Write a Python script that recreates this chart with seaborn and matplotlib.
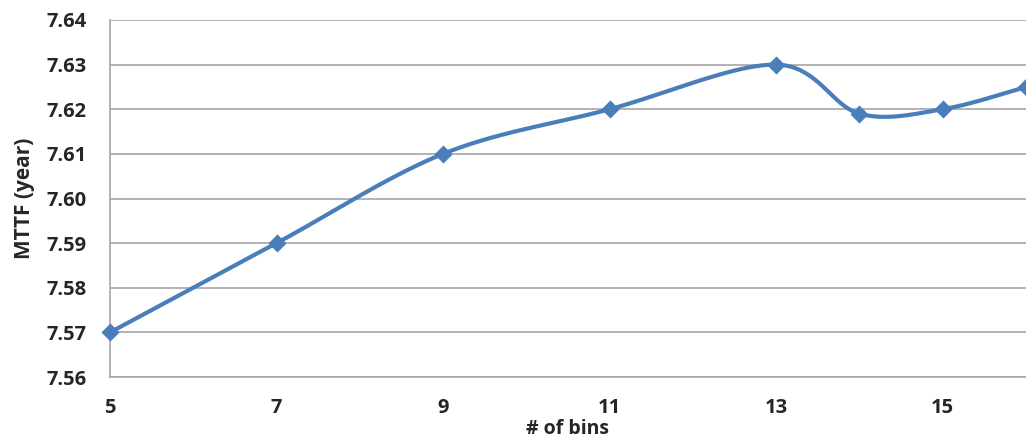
import numpy as np
import pandas as pd
import matplotlib
matplotlib.use("Agg")
import matplotlib.pyplot as plt
import seaborn as sns

# Mean time to failure versus number of bins
bins = [5, 7, 9, 11, 13, 14, 15, 16]
mttf = [7.570, 7.590, 7.610, 7.620, 7.630, 7.619, 7.620, 7.625]
x_ticks = [5, 7, 9, 11, 13, 15]
y_ticks = [7.56, 7.57, 7.58, 7.59, 7.60, 7.61, 7.62, 7.63, 7.64]

LINE_COLOR = "#4A7EBB"
GRID_COLOR = "#A6A6A6"
TEXT_COLOR = "#262626"


def smooth_curve(xs, ys, n=40):
    """Cardinal (Catmull-Rom style) Bezier smoothing through every point."""
    pts = np.column_stack([xs, ys]).astype(float)
    ext = np.vstack([pts[0], pts, pts[-1]])
    out = []
    t = np.linspace(0, 1, n)[:, None]
    for i in range(1, len(ext) - 2):
        p0, p1, p2, p3 = ext[i - 1], ext[i], ext[i + 1], ext[i + 2]
        c1 = p1 + (p2 - p0) / 6.0
        c2 = p2 - (p3 - p1) / 6.0
        seg = ((1 - t) ** 3) * p1 + 3 * ((1 - t) ** 2) * t * c1 \
            + 3 * (1 - t) * t ** 2 * c2 + t ** 3 * p2
        out.append(seg if i == 1 else seg[1:])
    curve = np.vstack(out)
    return curve[:, 0], curve[:, 1]


sns.set_theme(style="white")
plt.rcParams["font.family"] = ["Open Sans", "DejaVu Sans"]
plt.rcParams["font.weight"] = "bold"

points = pd.DataFrame({"bins": bins, "mttf": mttf})
cx, cy = smooth_curve(points["bins"], points["mttf"])
curve = pd.DataFrame({"bins": cx, "mttf": cy})

fig = plt.figure(figsize=(10.26, 4.42), dpi=100)
ax = fig.add_axes([0.1072, 0.147, 0.8928, 0.8078])

sns.lineplot(data=curve, x="bins", y="mttf", ax=ax, color=LINE_COLOR,
             linewidth=3.0, sort=False, zorder=3)
sns.scatterplot(data=points, x="bins", y="mttf", ax=ax, color=LINE_COLOR,
                marker="D", s=85, edgecolor=LINE_COLOR, linewidth=0,
                zorder=4, clip_on=False)

ax.set_xlim(5, 16)
ax.set_ylim(7.56, 7.64)
ax.set_xticks(x_ticks)
ax.set_yticks(y_ticks)
ax.set_yticklabels([f"{v:.2f}" for v in y_ticks])

ax.yaxis.grid(True, color=GRID_COLOR, linewidth=1.2)
ax.xaxis.grid(False)
for side in ("top", "right"):
    ax.spines[side].set_visible(False)
for side in ("left", "bottom"):
    ax.spines[side].set_color(GRID_COLOR)
    ax.spines[side].set_linewidth(1.2)

ax.tick_params(axis="both", length=0, labelsize=14.5, colors=TEXT_COLOR)
ax.tick_params(axis="x", pad=15)
ax.tick_params(axis="y", pad=17)
for lab in ax.get_xticklabels() + ax.get_yticklabels():
    lab.set_fontweight("bold")

ax.set_xlabel("# of bins", fontsize=14, fontweight="bold", color=TEXT_COLOR,
              labelpad=1)
ax.set_ylabel("MTTF (year)", fontsize=15, fontweight="bold", color=TEXT_COLOR,
              labelpad=8)

fig.savefig("out.png", dpi=100)
